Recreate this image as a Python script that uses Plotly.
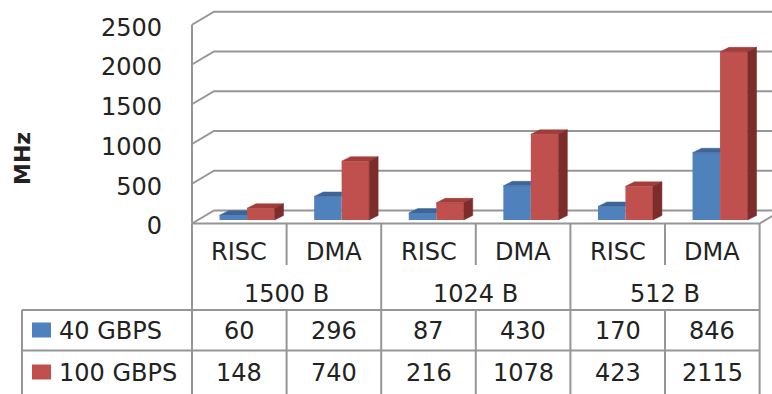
import plotly.graph_objects as go

# ---------------- data ----------------
categories = ["RISC", "DMA", "RISC", "DMA", "RISC", "DMA"]
groups = ["1500 B", "1024 B", "512 B"]
series_names = ["40 GBPS", "100 GBPS"]
s40 = [60, 296, 87, 430, 170, 846]
s100 = [148, 740, 216, 1078, 423, 2115]
yticks = [0, 500, 1000, 1500, 2000, 2500]

# ---------------- geometry helpers ----------------
W, H = 772, 394
L = 170                 # left margin (plot area starts here)
PXC0, CATW = 239.3, 94.6  # pixel centre of first category, category width
Y0PX, K = 220.0, 0.0795   # pixel of value 0 (bar base), px per unit
FONT = "DejaVu Sans"
TXT = "#222222"
GRID = "#969696"
BLUE, BLUE_TOP = "#4f81bd", "#3d6597"
RED, RED_TOP, RED_SIDE = "#c0504d", "#a23d3a", "#7c2d2b"


def xd(px):
    return (px - PXC0) / CATW


def vd(py):
    return (Y0PX - py) / K


def xp(px):
    return (px - L) / (W - L)


def yp(py):
    return 1 - py / H


DX = 9 / CATW        # bar depth (x)
DV = 4.5 / K         # bar depth (value)
FRONT_OFF = vd(223.5)          # front wall line offset for value 0
BACK_OFF = vd(210.5)           # back wall line offset for value 0
WALL_DX = 22 / CATW
BW = 27.5 / CATW
OFF_B = -19.75 / CATW
OFF_R = OFF_B + BW

fig = go.Figure()

xs = list(range(len(categories)))
fig.add_trace(go.Bar(x=xs, y=s40, offset=OFF_B, width=BW, marker=dict(color=BLUE, line=dict(width=0)),
                     name=series_names[0], showlegend=False, hoverinfo="skip"))
fig.add_trace(go.Bar(x=xs, y=s100, offset=OFF_R, width=BW, marker=dict(color=RED, line=dict(width=0)),
                     name=series_names[1], showlegend=False, hoverinfo="skip"))

# 3D faces
bx, by = [], []
for i, v in enumerate(s40):
    xl = i + OFF_B
    xr = xl + BW
    bx += [xl, xr, xr, xl + DX, xl, None]
    by += [v, v, v + DV, v + DV, v, None]
fig.add_trace(go.Scatter(x=bx, y=by, mode="lines", fill="toself", fillcolor=BLUE_TOP,
                         line=dict(color=BLUE_TOP, width=0.5), showlegend=False, hoverinfo="skip"))
rx, ry, sx, sy = [], [], [], []
for i, v in enumerate(s100):
    xl = i + OFF_R
    xr = xl + BW
    rx += [xl, xr, xr + DX, xl + DX, xl, None]
    ry += [v, v, v + DV, v + DV, v, None]
    sx += [xr, xr, xr + DX, xr + DX, xr, None]
    sy += [0, v, v + DV, DV, 0, None]
fig.add_trace(go.Scatter(x=rx, y=ry, mode="lines", fill="toself", fillcolor=RED_TOP,
                         line=dict(color=RED_TOP, width=0.5), showlegend=False, hoverinfo="skip"))
fig.add_trace(go.Scatter(x=sx, y=sy, mode="lines", fill="toself", fillcolor=RED_SIDE,
                         line=dict(color=RED_SIDE, width=0.5), showlegend=False, hoverinfo="skip"))

shapes = []
# walls / gridlines (data coords, below bars)
x_front = -0.5
x_back = -0.5 + WALL_DX
for t in yticks:
    shapes.append(dict(type="path", xref="x", yref="y", layer="below",
                       path=f"M {x_front},{t + FRONT_OFF} L {x_back},{t + BACK_OFF} L 7,{t + BACK_OFF}",
                       line=dict(color=GRID, width=2)))
# left wall vertical edge
shapes.append(dict(type="line", xref="x", yref="y", layer="below", x0=x_front, x1=x_front,
                   y0=FRONT_OFF, y1=yticks[-1] + FRONT_OFF, line=dict(color=GRID, width=2)))
# floor front edge and right edge
x_end = len(categories) - 0.5
shapes.append(dict(type="path", xref="x", yref="y", layer="below",
                   path=f"M {x_front},{FRONT_OFF} L {x_end},{FRONT_OFF} L {x_end + WALL_DX},{BACK_OFF}",
                   line=dict(color=GRID, width=2)))


def pline(x0, y0, x1, y1):
    shapes.append(dict(type="line", xref="paper", yref="paper", x0=xp(x0), y0=yp(y0), x1=xp(x1), y1=yp(y1),
                       line=dict(color=GRID, width=2), layer="above"))


# data table lines
def cx(k):  # pixel x of category boundary k
    return PXC0 + CATW * (k - 0.5)


TOP, ROW1, ROW2, BOT = 223.5, 310, 350.5, 396
for k in range(0, 7, 2):
    pline(cx(k), TOP, cx(k), BOT)
for k in (1, 3, 5):
    pline(cx(k), TOP, cx(k), 265)
    pline(cx(k), ROW1, cx(k), BOT)
pline(22, ROW1, cx(6), ROW1)
pline(22, ROW2, cx(6), ROW2)
pline(22, ROW1, 22, BOT)

# legend keys
for yc, col in ((330, BLUE), (372, RED)):
    shapes.append(dict(type="rect", xref="paper", yref="paper", x0=xp(32), x1=xp(51), y0=yp(yc - 7.5),
                       y1=yp(yc + 7.5), fillcolor=col, line=dict(width=0)))

ann = []
f = dict(family=FONT, size=24, color=TXT)
for i, c in enumerate(categories):
    ann.append(dict(x=i, xref="x", y=yp(252), yref="paper", text=c, showarrow=False, font=f,
                    xanchor="center", yanchor="middle"))
for g, name in enumerate(groups):
    ann.append(dict(x=2 * g + 0.5, xref="x", y=yp(294), yref="paper", text=name, showarrow=False, font=f,
                    xanchor="center", yanchor="middle"))
for vals, yc in ((s40, 331), (s100, 373)):
    for i, v in enumerate(vals):
        ann.append(dict(x=i, xref="x", y=yp(yc), yref="paper", text=str(v), showarrow=False, font=f,
                        xanchor="center", yanchor="middle"))
for name, yc in zip(series_names, (331, 373)):
    ann.append(dict(x=xp(57), xref="paper", y=yp(yc), yref="paper", text=name, showarrow=False, font=f,
                    xanchor="left", yanchor="middle"))
ann.append(dict(x=xp(22), xref="paper", y=yp(159), yref="paper", text="<b>MHz</b>", textangle=-90,
                showarrow=False, font=dict(family=FONT, size=22, color=TXT), xanchor="center", yanchor="middle"))

fig.update_layout(
    width=W, height=H,
    margin=dict(l=L, r=0, t=0, b=0, pad=0),
    paper_bgcolor="white", plot_bgcolor="white",
    barmode="overlay",
    xaxis=dict(range=[xd(L), xd(W)], visible=False, fixedrange=True),
    yaxis=dict(range=[vd(H), vd(0)], tickvals=yticks, ticktext=[str(t) for t in yticks],
               showgrid=False, zeroline=False, showline=False, ticks="",
               tickfont=dict(family=FONT, size=24, color=TXT),
               ticklabelstandoff=7, ticklabelshift=6, fixedrange=True),
    shapes=shapes, annotations=ann,
    showlegend=False,
)

fig.write_html("out.html")
